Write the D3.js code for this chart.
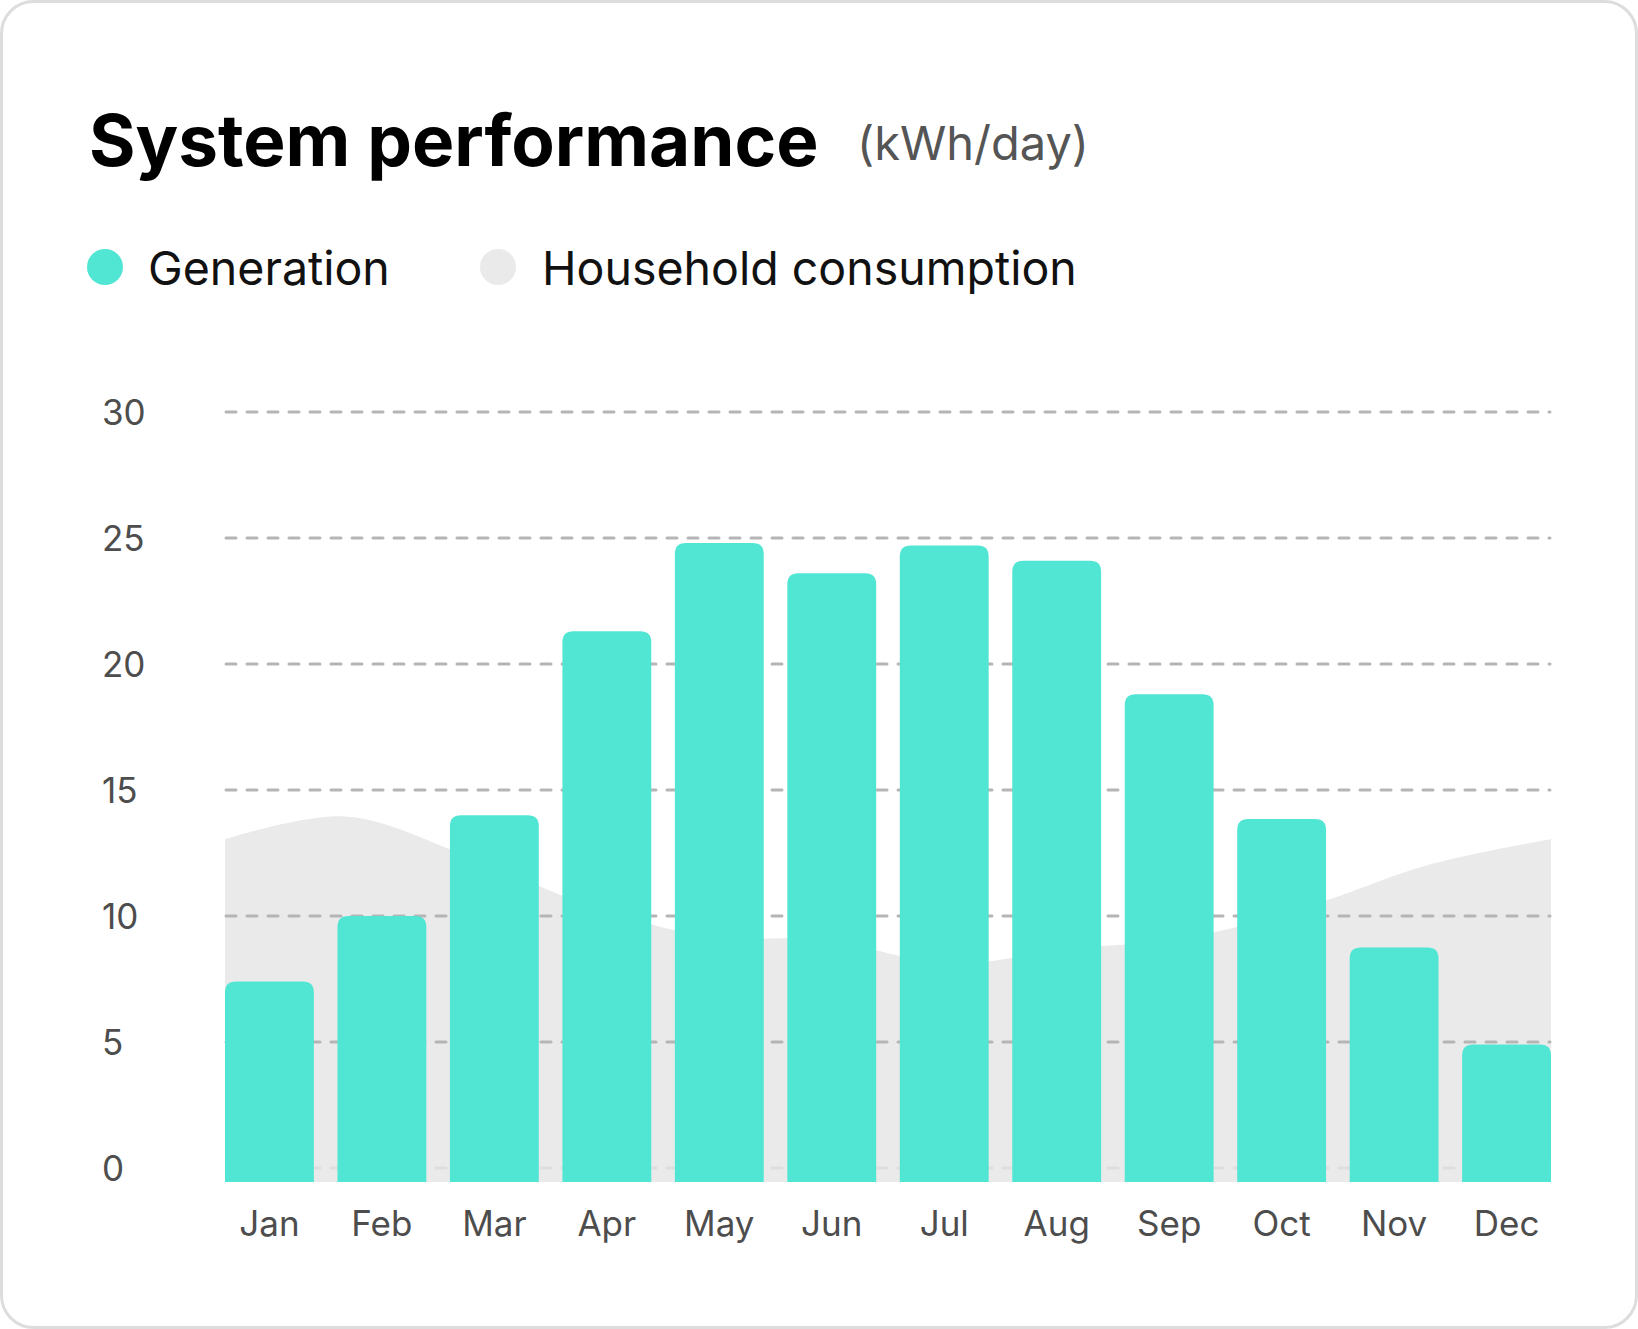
<!DOCTYPE html>
<html>
<head>
<meta charset="utf-8">
<script src="https://cdn.jsdelivr.net/npm/d3@7"></script>
<style>
  body { margin: 0; background: #fff; }
  svg { display: block; font-family: Inter, "Noto Sans", sans-serif; }
</style>
</head>
<body>
<div id="chart"></div>
<script>
// monthly values, kWh/day
const months = ["Jan", "Feb", "Mar", "Apr", "May", "Jun", "Jul", "Aug", "Sep", "Oct", "Nov", "Dec"];
const generation = [7.4, 10.0, 14.0, 21.3, 24.8, 23.6, 24.7, 24.1, 18.8, 13.85, 8.75, 4.9];
const consumption = [13.05, 13.95, 12.4, 10.45, 9.2, 9.05, 8.1, 8.7, 9.15, 10.4, 12.05, 13.05];
const yTicks = [0, 5, 10, 15, 20, 25, 30];

const width = 1638, height = 1329;
const genColor = "#50e6d3";
const useColor = "#eaeaea";

const svg = d3.select("#chart").append("svg")
  .attr("width", width)
  .attr("height", height);

// card
svg.append("rect")
  .attr("x", 1.5).attr("y", 1.5)
  .attr("width", width - 3).attr("height", height - 3)
  .attr("rx", 32)
  .attr("fill", "#fff")
  .attr("stroke", "#dddddd")
  .attr("stroke-width", 3);

// title
svg.append("text")
  .attr("x", 89).attr("y", 166)
  .attr("font-size", 71)
  .attr("font-weight", 700)
  .attr("fill", "#000")
  .text("System performance");

svg.append("text")
  .attr("x", 857).attr("y", 160)
  .attr("font-size", 47)
  .attr("fill", "#555")
  .text("(kWh/day)");

// legend
const legend = [
  { label: "Generation", color: genColor, cx: 105, tx: 148 },
  { label: "Household consumption", color: useColor, cx: 498, tx: 542 }
];
legend.forEach(d => {
  svg.append("circle").attr("cx", d.cx).attr("cy", 267).attr("r", 18).attr("fill", d.color);
  svg.append("text")
    .attr("x", d.tx).attr("y", 285)
    .attr("font-size", 46.5)
    .attr("fill", "#111")
    .text(d.label);
});

// scales
const x = d3.scaleBand()
  .domain(months)
  .range([225, 1551])
  .paddingInner(0.21)
  .paddingOuter(0);

const xp = d3.scalePoint()
  .domain(months)
  .range([225, 1551]);

const y = d3.scaleLinear()
  .domain([0, 30])
  .range([1168, 412]);

const baseline = y(0) + 14;

// consumption area
svg.append("path")
  .datum(consumption)
  .attr("fill", useColor)
  .attr("d", d3.area()
    .x((d, i) => xp(months[i]))
    .y0(baseline)
    .y1(d => y(d))
    .curve(d3.curveCatmullRom.alpha(0.5)));

// gridlines
svg.append("g")
  .selectAll("line")
  .data(yTicks)
  .join("line")
  .attr("x1", 226).attr("x2", 1550)
  .attr("y1", d => y(d)).attr("y2", d => y(d))
  .attr("stroke", d => d === 0 ? "#dedede" : "#b5b5b5")
  .attr("stroke-width", 3)
  .attr("stroke-linecap", "round")
  .attr("stroke-dasharray", "10 11");

// rounded-top bar
function barPath(x0, y0, w, y1, r) {
  return `M${x0},${y1}V${y0 + r}Q${x0},${y0} ${x0 + r},${y0}H${x0 + w - r}Q${x0 + w},${y0} ${x0 + w},${y0 + r}V${y1}Z`;
}

svg.append("g")
  .selectAll("path")
  .data(generation)
  .join("path")
  .attr("fill", genColor)
  .attr("d", (d, i) => barPath(x(months[i]), y(d), x.bandwidth(), baseline, 11));

// y axis labels
const yAxis = svg.append("g")
  .call(d3.axisLeft(y).tickValues(yTicks).tickSize(0));
yAxis.select(".domain").remove();
yAxis.selectAll("text")
  .attr("x", 102)
  .attr("dy", "0.37em")
  .attr("text-anchor", "start")
  .attr("font-family", "Inter, 'Noto Sans', sans-serif")
  .attr("font-size", 35)
  .attr("fill", "#4d4d4d");

// x axis labels
const xAxis = svg.append("g")
  .attr("transform", "translate(0,1236)")
  .call(d3.axisBottom(x).tickSize(0));
xAxis.select(".domain").remove();
xAxis.selectAll("text")
  .attr("y", 0)
  .attr("dy", 0)
  .attr("font-family", "Inter, 'Noto Sans', sans-serif")
  .attr("font-size", 35)
  .attr("fill", "#4d4d4d");
</script>
</body>
</html>
